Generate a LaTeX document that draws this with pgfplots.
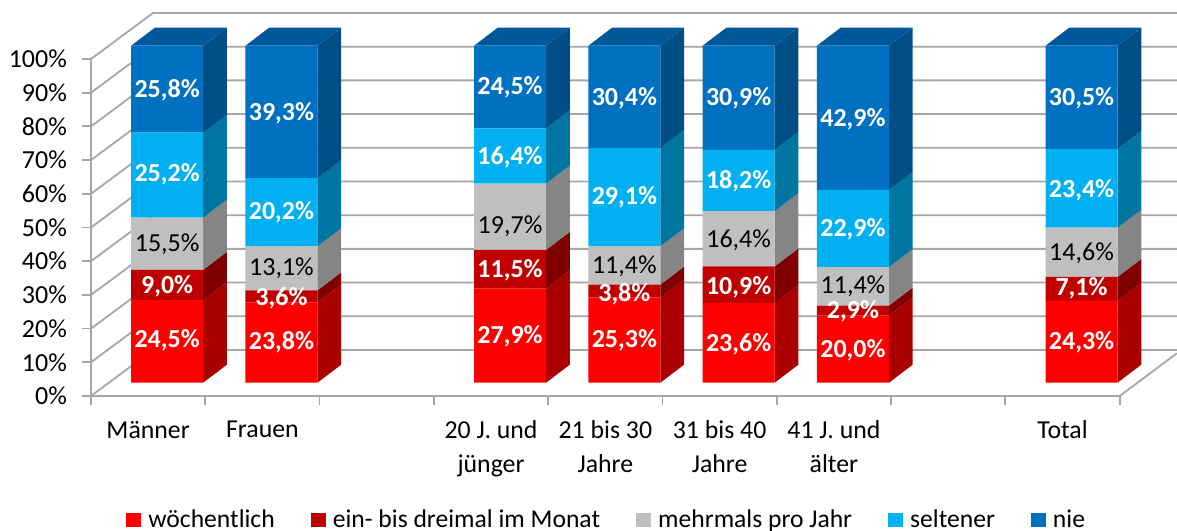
\documentclass[border=0pt]{standalone}
\usepackage{fontspec}
\setmainfont{Carlito}
\usepackage{pgfplots}
\usepackage{pgfplotstable}
\pgfplotsset{compat=1.18}

\definecolor{cWo}{HTML}{FF0000}\definecolor{cWoS}{HTML}{AA0000}
\definecolor{cEin}{HTML}{C00000}\definecolor{cEinS}{HTML}{800000}
\definecolor{cMeh}{HTML}{BFBFBF}\definecolor{cMehS}{HTML}{858585}
\definecolor{cSel}{HTML}{00B0F0}\definecolor{cSelS}{HTML}{00759F}
\definecolor{cNie}{HTML}{0070C0}\definecolor{cNieS}{HTML}{004E86}
\definecolor{cNieT}{HTML}{00589A}
\definecolor{gridc}{HTML}{A6A6A6}

% shares per group
\pgfplotstableread{
x  wo   ein  meh  sel  nie
0  24.5 9.0  15.5 25.2 25.8
1  23.8 3.6  13.1 20.2 39.3
3  27.9 11.5 19.7 16.4 24.5
4  25.3 3.8  11.4 29.1 30.4
5  23.6 10.9 16.4 18.2 30.9
6  20.0 2.9  11.4 22.9 42.8
8  24.3 7.1  14.6 23.4 30.6
}\shares

% label positions: x, height, printed value
\pgfplotstableread{
x y v
0 12.7 24.5
0 28.7 9.0
0 61.9 25.2
0 86.9 25.8
1 12.1 23.8
1 25.1 3.6
1 50.7 20.2
1 80.0 39.3
3 13.9 27.9
3 33.4 11.5
3 67.0 16.4
3 87.7 24.5
4 12.7 25.3
4 26.3 3.8
4 55.1 29.1
4 84.5 30.4
5 11.5 23.6
5 28.4 10.9
5 59.9 18.2
5 84.5 30.9
6 9.7 20.0
6 21.3 2.9
6 45.6 22.9
6 78.2 42.9
8 12.1 24.3
8 28.1 7.1
8 57.2 23.4
8 84.5 30.5
}\whitelabels
\pgfplotstableread{
x y v
0 41.2 15.5
1 34.0 13.1
3 46.5 19.7
4 34.6 11.4
5 42.3 16.4
6 28.7 11.4
8 38.5 14.6
}\blacklabels

% side face of one segment: x, lower, upper, colour
\newcommand{\sideface}[4]{%
  \pgfmathsetmacro\xa{#1+0.315}\pgfmathsetmacro\xb{#1+0.5224}%
  \pgfmathsetmacro\la{#2+5.34}\pgfmathsetmacro\ha{#3+5.34}%
  \edef\temp{\noexpand\addplot[draw=none,fill=#4,forget plot] coordinates
    {(\xa,#2) (\xb,\la) (\xb,\ha) (\xa,#3)} -- cycle;}\temp}
% all side faces and the top of one bar, from cumulated shares
\newcommand{\barsides}[5]{%
  \sideface{#1}{0}{#2}{cWoS}\sideface{#1}{#2}{#3}{cEinS}%
  \sideface{#1}{#3}{#4}{cMehS}\sideface{#1}{#4}{#5}{cSelS}\sideface{#1}{#5}{100}{cNieS}%
  \pgfmathsetmacro\xc{#1-0.315}\pgfmathsetmacro\xd{#1+0.315}%
  \pgfmathsetmacro\xe{#1-0.1076}\pgfmathsetmacro\xf{#1+0.5224}%
  \edef\temp{\noexpand\addplot[draw=none,fill=cNieT,forget plot] coordinates
    {(\xc,100) (\xd,100) (\xf,105.34) (\xe,105.34)} -- cycle;}\temp}

\pgfplotsset{
  base/.style={scale only axis, width=514.35pt, height=168.5pt,
    xmin=-0.5, xmax=8.5, ymin=0, ymax=100, clip=false},
  hidden/.style={base, axis lines=none},
  vals/.style={only marks, mark=none, point meta=explicit,
    nodes near coords={\pgfmathprintnumber{\pgfplotspointmeta}\%},
    /pgf/number format/use comma, /pgf/number format/fixed,
    /pgf/number format/fixed zerofill, /pgf/number format/precision=1,
    /pgf/number format/assume math mode=true},
}

\begin{document}
\begin{tikzpicture}
\path[use as bounding box] (0,0) rectangle (588.5pt,265pt);

% frame, walls and tick labels
\begin{axis}[base, at={(45.5pt,67pt)},
  axis x line*=bottom, axis y line*=left,
  axis line style={gridc, line width=1pt, -},
  tick style={gridc, line width=0.9pt},
  tick align=outside, major tick length=4.5pt,
  ytick={0,10,...,100},
  yticklabel={\pgfmathprintnumber{\tick}\%},
  /pgf/number format/assume math mode=true,
  y tick label style={font=\fontsize{13}{14}\selectfont, text=black},
  yticklabel style={xshift=-4pt},
  xtick={-0.5,0.5,...,8.5}, xticklabels={},
  extra x ticks={0,1,3,4,5,6,8},
  extra x tick labels={M\"anner,Frauen,{20 J. und\\j\"unger},{21 bis 30\\Jahre},{31 bis 40\\Jahre},{41 J. und\\\"alter},Total},
  extra x tick style={major tick length=0pt, tick label style={
    font=\fontsize{12.9}{16.6}\selectfont, align=center, anchor=north, yshift=-9pt, text=black}},
]
\addplot[gridc, line width=0.9pt] coordinates {(-0.5,0) (0.0424,13.65) (9.0,13.65)};
\addplot[gridc, line width=0.9pt] coordinates {(-0.5,10) (0.0424,23.65) (9.0,23.65)};
\addplot[gridc, line width=0.9pt] coordinates {(-0.5,20) (0.0424,33.65) (9.0,33.65)};
\addplot[gridc, line width=0.9pt] coordinates {(-0.5,30) (0.0424,43.65) (9.0,43.65)};
\addplot[gridc, line width=0.9pt] coordinates {(-0.5,40) (0.0424,53.65) (9.0,53.65)};
\addplot[gridc, line width=0.9pt] coordinates {(-0.5,50) (0.0424,63.65) (9.0,63.65)};
\addplot[gridc, line width=0.9pt] coordinates {(-0.5,60) (0.0424,73.65) (9.0,73.65)};
\addplot[gridc, line width=0.9pt] coordinates {(-0.5,70) (0.0424,83.65) (9.0,83.65)};
\addplot[gridc, line width=0.9pt] coordinates {(-0.5,80) (0.0424,93.65) (9.0,93.65)};
\addplot[gridc, line width=0.9pt] coordinates {(-0.5,90) (0.0424,103.65) (9.0,103.65)};
\addplot[gridc, line width=0.9pt] coordinates {(-0.5,100) (0.0424,113.65) (9.0,113.65)};
\addplot[gridc, line width=0.9pt] coordinates {(8.5,0) (9.0,12.66)};
\end{axis}

% side and top faces
\begin{axis}[hidden, at={(55pt,73.65pt)}]
\barsides{0}{24.5}{33.5}{49.0}{74.2}
\barsides{1}{23.8}{27.4}{40.5}{60.7}
\barsides{3}{27.9}{39.4}{59.1}{75.5}
\barsides{4}{25.3}{29.1}{40.5}{69.6}
\barsides{5}{23.6}{34.5}{50.9}{69.1}
\barsides{6}{20.0}{22.9}{34.3}{57.2}
\barsides{8}{24.3}{31.4}{46.0}{69.4}
\end{axis}

% front faces and legend
\begin{axis}[hidden, at={(55pt,73.65pt)}, ybar stacked, bar width=36pt,
  legend columns=5,
  legend image code/.code={\fill[#1] (0pt,-3.6pt) rectangle (7.5pt,3.6pt);},
  legend style={at={(0.01555,-0.4074)}, anchor=west, draw=none, fill=none, inner sep=0pt,
    nodes={inner sep=0pt},
    font=\fontsize{12.8}{14}\selectfont,
    /tikz/every odd column/.append style={column sep=3.5pt},
    /tikz/every even column/.append style={column sep=18pt}},
]
\addplot[draw=none, fill=cWo]  table[x=x, y=wo]  {\shares};
\addplot[draw=none, fill=cEin] table[x=x, y=ein] {\shares};
\addplot[draw=none, fill=cMeh] table[x=x, y=meh] {\shares};
\addplot[draw=none, fill=cSel] table[x=x, y=sel] {\shares};
\addplot[draw=none, fill=cNie] table[x=x, y=nie] {\shares};
\legend{w\"ochentlich,ein- bis dreimal im Monat,mehrmals pro Jahr,seltener,nie}
\end{axis}

% value labels
\begin{axis}[hidden, at={(55pt,73.65pt)}]
\addplot[vals, every node near coord/.append style={anchor=center, text=white, font=\fontsize{13}{14}\selectfont\bfseries}]
  table[x=x, y=y, meta=v] {\whitelabels};
\addplot[vals, every node near coord/.append style={anchor=center, text=black, font=\fontsize{13}{14}\selectfont}]
  table[x=x, y=y, meta=v] {\blacklabels};
\end{axis}
\end{tikzpicture}
\end{document}
